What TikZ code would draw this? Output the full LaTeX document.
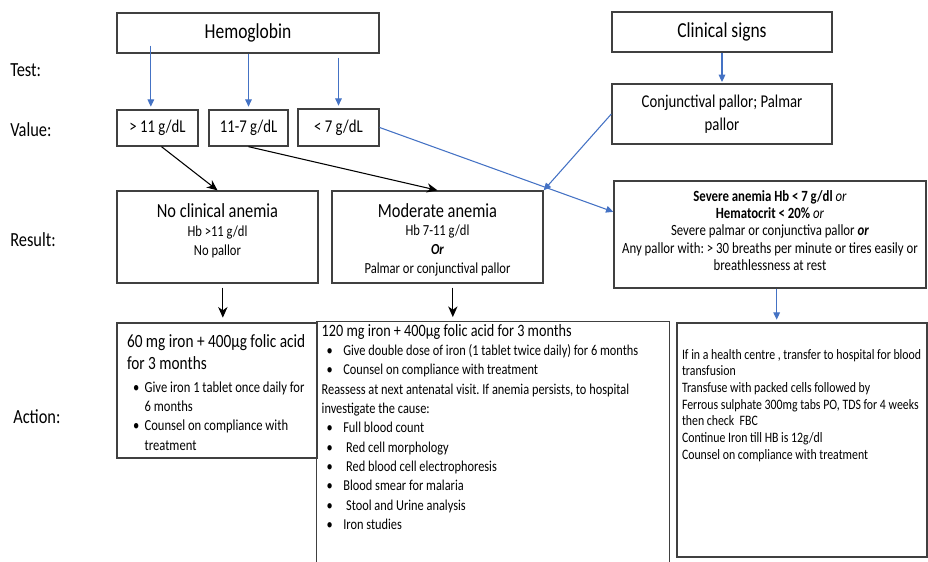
\documentclass[tikz,border=0pt]{standalone}
\usepackage{fontspec}
\setmainfont{Carlito}[FakeStretch=0.82]
\usetikzlibrary{arrows.meta}

\definecolor{linkblue}{HTML}{4472C4}

% bullet lines with a hanging indent
\newlength{\bulpos}
\newlength{\bulind}
\newcommand{\bul}{\par\noindent\hangindent=\bulind\makebox[\bulind][l]{\hspace{\bulpos}\textbullet}}

\tikzset{
  box/.style={draw=black!75, line width=1pt, inner sep=0pt},
  rowlabel/.style={anchor=west, inner sep=0pt, font=\fontsize{15}{18}\selectfont},
  bluearrow/.style={draw=linkblue, line width=0.8pt, -{Triangle[length=5.5pt,width=5pt]}},
  blackarrow/.style={draw=black, line width=0.8pt, -{Stealth[length=8pt,width=7pt,inset=2.5pt]}},
}

\begin{document}
\frenchspacing
\begin{tikzpicture}[x=0.75pt,y=-0.75pt]
  \useasboundingbox (0,0) rectangle (928,561);

  % row captions
  \node[rowlabel] (test) at (10,70) {Test:};
  \node[rowlabel] (value) at (10,130) {Value:};
  \node[rowlabel] (result) at (10,240) {Result:};
  \node[rowlabel] (action) at (13,417) {Action:};

  % tests
  \node[box,minimum width=196.5pt,minimum height=30pt,font=\fontsize{16}{19}\selectfont] (hb) at (248,33) {Hemoglobin};
  \node[box,minimum width=165pt,minimum height=30pt,font=\fontsize{16}{19}\selectfont] (clin) at (722,32) {Clinical signs};
  \node[box,minimum width=165pt,minimum height=45pt,align=center,
        font=\fontsize{13.5}{17.5}\selectfont] (pallor) at (722,114) {Conjunctival pallor; Palmar\\pallor};

  % values
  \node[box,minimum width=60.75pt,minimum height=27pt,font=\fontsize{13.5}{16}\selectfont] (gt11) at (157.5,128) {> 11 g/dL};
  \node[box,minimum width=59.25pt,minimum height=27pt,font=\fontsize{13.5}{16}\selectfont] (mid) at (248.5,128) {11-7 g/dL};
  \node[box,minimum width=60.75pt,minimum height=27.75pt,font=\fontsize{13.5}{16}\selectfont] (lt7) at (338.5,127.5) {< 7 g/dL};

  % results
  \node[box] (noan) at (217.5,237) {\parbox[c][69pt][t]{150.75pt}{\centering
    {\fontsize{15}{19}\selectfont\rule{0pt}{19.5pt}No clinical anemia\par}
    \fontsize{11.5}{14.5}\selectfont Hb >11 g/dl\\No pallor}};
  \node[box] (mod) at (437.5,237) {\parbox[c][69pt][t]{158.25pt}{\centering
    {\fontsize{15}{19}\selectfont\rule{0pt}{19.5pt}Moderate anemia\par}
    \fontsize{11.5}{14}\selectfont Hb 7-11 g/dl\\\textbf{\textit{Or}}\\Palmar or conjunctival pallor}};
  \node[box] (sev) at (770,234.5) {\parbox[c][80.25pt][t]{234pt}{\centering
    \fontsize{11.7}{13.1}\selectfont
    \rule{0pt}{15pt}\textbf{Severe anemia Hb < 7 g/dl} \textit{or}\\
    \textbf{Hematocrit < 20\%} \textit{or}\\
    Severe palmar or conjunctiva pallor \textbf{\textit{or}}\\
    Any pallor with: > 30 breaths per minute or tires easily or\\
    breathlessness at rest}};

  % actions
  \node[box] (act1) at (217,390.5) {\parbox[c][101.25pt][t]{150pt}{\raggedright\leftskip=7.5pt
    \setlength{\bulpos}{4.5pt}\setlength{\bulind}{13.25pt}
    {\fontsize{14}{16.5}\selectfont\rule{0pt}{18pt}60 mg iron + 400µg folic acid\newline for 3 months\par}
    \vspace{2.75pt}\fontsize{11.5}{14.5}\selectfont
    \bul Give iron 1 tablet once daily for\newline 6 months
    \bul Counsel on compliance with\newline treatment\par}};
  \node[inner sep=0pt] (act2) at (493,442) {\parbox[c][180pt][t]{264pt}{\raggedright\leftskip=3.5pt
    \setlength{\bulpos}{3.75pt}\setlength{\bulind}{16.25pt}
    {\fontsize{13}{15}\selectfont\rule{0pt}{10.5pt}120 mg iron + 400µg folic acid for 3 months\par}
    \fontsize{11.3}{14.5}\selectfont
    \bul Give double dose of iron (1 tablet twice daily) for 6 months
    \bul Counsel on compliance with treatment
    \par Reassess at next antenatal visit. If anemia persists, to hospital\newline investigate the cause:
    \bul Full blood count
    \bul\ Red cell morphology
    \bul\ Red blood cell electrophoresis
    \bul Blood smear for malaria
    \bul\ Stool and Urine analysis
    \bul Iron studies\par}};
  \draw[black!75,line width=1pt] (act2.south west) -- (act2.north west) -- (act2.north east) -- (act2.south east);
  \node[box] (act3) at (802,440) {\parbox[c][175.5pt][t]{187.5pt}{\raggedright\leftskip=3.75pt
    \fontsize{10.8}{12.5}\selectfont
    \rule{0pt}{27pt}If in a health centre , transfer to hospital for blood\newline
    transfusion\newline
    Transfuse with packed cells followed by\newline
    Ferrous sulphate 300mg tabs PO, TDS for 4 weeks\newline
    then check\ \ FBC\newline
    Continue Iron till HB is 12g/dl\newline
    Counsel on compliance with treatment\par}};

  % connectors
  \draw[bluearrow,shorten <=-6pt,shorten >=2pt] ([xshift=-5pt]gt11.north |- hb.south) -- ([xshift=-5pt]gt11.north);
  \draw[bluearrow,shorten >=2pt] (mid.north |- hb.south) -- (mid.north);
  \draw[bluearrow,shorten <=3pt,shorten >=2pt] (lt7.north |- hb.south) -- (lt7.north);
  \draw[bluearrow,shorten >=1pt] (clin.south) -- (pallor.north);
  \draw[blackarrow] ([xshift=3pt]gt11.south) -- (noan.north);
  \draw[blackarrow] (mid.south) -- (mod.north);
  \draw[bluearrow] (lt7.east) -- ([yshift=17pt]sev.west);
  \draw[bluearrow] (pallor.west) -- (mod.north east);
  \draw[blackarrow,shorten <=3pt,shorten >=3.5pt] ([xshift=4pt]noan.south) -- ([xshift=4pt]noan.south |- act1.north);
  \draw[blackarrow,shorten <=3pt,shorten >=3.5pt] ([xshift=11.5pt]mod.south) -- ([xshift=11.5pt]mod.south |- act2.north);
  \draw[bluearrow,shorten >=2pt] ([xshift=5pt]sev.south) -- ([xshift=5pt]sev.south |- act3.north);
\end{tikzpicture}
\end{document}
